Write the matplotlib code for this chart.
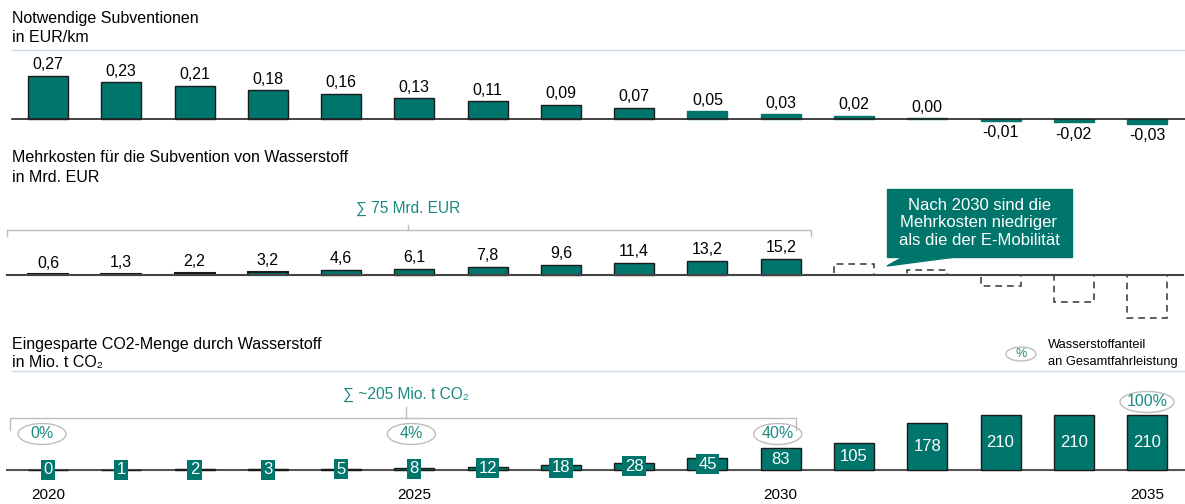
import matplotlib
matplotlib.use("Agg")
import matplotlib.pyplot as plt
from matplotlib.patches import Ellipse, Polygon, FancyBboxPatch
from matplotlib.lines import Line2D

plt.rcParams['font.family'] = ['Liberation Sans', 'DejaVu Sans']

# data
years = list(range(2020, 2036))
year_ticks = [2020, 2025, 2030, 2035]

subsidy = [0.27, 0.23, 0.21, 0.18, 0.16, 0.13, 0.11, 0.09, 0.07, 0.05, 0.03, 0.02, 0.00, -0.01, -0.02, -0.03]
subsidy_labels = ["0,27", "0,23", "0,21", "0,18", "0,16", "0,13", "0,11", "0,09", "0,07", "0,05", "0,03", "0,02", "0,00", "-0,01", "-0,02", "-0,03"]

extra_cost = [0.6, 1.3, 2.2, 3.2, 4.6, 6.1, 7.8, 9.6, 11.4, 13.2, 15.2]
extra_cost_labels = ["0,6", "1,3", "2,2", "3,2", "4,6", "6,1", "7,8", "9,6", "11,4", "13,2", "15,2"]
extra_cost_after = [10.5, 5.0, -10.5, -26.0, -41.0]  # dashed, after 2030

co2_saved = [0, 1, 2, 3, 5, 8, 12, 18, 28, 45, 83, 105, 178, 210, 210, 210]
share_years = [2020, 2025, 2030, 2035]
share_labels = ["0%", "4%", "40%", "100%"]

TEAL = "#00756b"
TEAL_TXT = "#1a8a80"
GRAY = "#bdbdbd"
LINE_BLUE = "#cfdde6"
FS = 11.5

W, H = 1185, 504
fig = plt.figure(figsize=(W / 100, H / 100), dpi=100)

def fx(x):
    return x / W

def fy(y):
    return 1 - y / H

def ax_at(top, bottom):
    return fig.add_axes([0, fy(bottom), 1, (bottom - top) / H])

x0, step = 48, 73.27
xl = (-x0 / step, (W - x0) / step)
idx = list(range(len(years)))
bw = 40 / step


def style(ax, ylim):
    ax.set_xlim(*xl)
    ax.set_ylim(*ylim)
    ax.axis("off")


# ---------- panel 1 ----------
fig.text(fx(12), fy(18), "Notwendige Subventionen", fontsize=FS, va="center")
fig.text(fx(12), fy(38), "in EUR/km", fontsize=FS, va="center")
fig.add_artist(Line2D([fx(12), 1], [fy(50), fy(50)], color=LINE_BLUE, lw=1))

ax1 = ax_at(55, 150)
ppu1 = 43 / 0.27
style(ax1, (-(150 - 119) / ppu1, (119 - 55) / ppu1))
for i, v in enumerate(subsidy):
    edge = "#1a1a1a" if abs(v) > 0.06 else TEAL
    ax1.bar(i, v if v != 0 else 0.006, width=bw, color=TEAL, edgecolor=edge, lw=1)
    if v >= 0:
        ax1.text(i, max(v, 0.006) + 0.022, subsidy_labels[i], ha="center", va="bottom", fontsize=FS)
    else:
        ax1.text(i, v - 0.028, subsidy_labels[i], ha="center", va="top", fontsize=FS)
ax1.plot([fx(12) * (xl[1] - xl[0]) + xl[0], xl[1]], [0, 0], color="#222222", lw=1.2)

# ---------- panel 2 ----------
fig.text(fx(12), fy(158), "Mehrkosten für die Subvention von Wasserstoff", fontsize=FS, va="center")
fig.text(fx(12), fy(177), "in Mrd. EUR", fontsize=FS, va="center")

ax2 = ax_at(190, 335)
ppu2 = 16 / 15.2
style(ax2, (-(335 - 275) / ppu2, (275 - 190) / ppu2))
for i, v in enumerate(extra_cost):
    ax2.bar(i, v, width=bw, color=TEAL, edgecolor="#1a1a1a", lw=1.5 if v < 4 else 1)
    ax2.text(i, v + 3.5, extra_cost_labels[i], ha="center", va="bottom", fontsize=FS)
for j, v in enumerate(extra_cost_after):
    ax2.bar(len(extra_cost) + j, v, width=bw, fill=False, edgecolor="#444444", lw=1.2, linestyle=(0, (4, 3)))
ax2.plot([xl[0] + 7 / step, xl[1] - 2 / step], [0, 0], color="#444444", lw=1.5)

# bracket
br = Line2D([fx(7), fx(7), fx(811), fx(811)], [fy(236), fy(230), fy(230), fy(236)], color=GRAY, lw=1)
fig.add_artist(br)
fig.add_artist(Line2D([fx(408), fx(408)], [fy(230), fy(225)], color=GRAY, lw=1))
fig.text(fx(408), fy(208), "∑ 75 Mrd. EUR", color=TEAL_TXT, fontsize=FS - 0.3, ha="center", va="center")

# callout
fig.add_artist(Polygon([[fx(887), fy(266)], [fx(905), fy(256)], [fx(963), fy(256)]],
                       closed=True, color=TEAL, transform=fig.transFigure))
fig.add_artist(FancyBboxPatch((fx(887), fy(257)), (1072 - 887) / W, (257 - 189) / H,
                              boxstyle="square,pad=0", color=TEAL, transform=fig.transFigure))
fig.text(fx(979), fy(223), "Nach 2030 sind die\nMehrkosten niedriger\nals die der E-Mobilität",
         color="white", fontsize=12, ha="center", va="center", linespacing=1.2)

# ---------- panel 3 ----------
fig.text(fx(12), fy(345), "Eingesparte CO2-Menge durch Wasserstoff", fontsize=FS, va="center")
fig.text(fx(12), fy(363), "in Mio. t CO₂", fontsize=FS, va="center")
fig.add_artist(Line2D([fx(12), 1], [fy(371), fy(371)], color=LINE_BLUE, lw=1))

# legend
fig.add_artist(Ellipse((fx(1021), fy(354)), 30 / W, 14 / H, facecolor="white", edgecolor=GRAY, lw=1,
                       transform=fig.transFigure))
fig.text(fx(1021), fy(354), "%", color=TEAL_TXT, fontsize=9, ha="center", va="center")
fig.text(fx(1048), fy(345), "Wasserstoffanteil", fontsize=9.3, va="center")
fig.text(fx(1048), fy(362), "an Gesamtfahrleistung", fontsize=9.3, va="center")

ax3 = ax_at(380, 482)
ppu3 = 55 / 210
style(ax3, (-(482 - 470) / ppu3, (470 - 380) / ppu3))
for i, v in enumerate(co2_saved):
    ax3.bar(i, max(v, 1.5), width=bw, color=TEAL, edgecolor="#1a1a1a", lw=1)
    ax3.text(i, v / 2, str(v), color="white", ha="center", va="center", fontsize=12,
             bbox=dict(boxstyle="square,pad=0.15", fc=TEAL, ec="none"))
ax3.plot([xl[0] + 7 / step, xl[1]], [0, 0], color="#555555", lw=1.5, zorder=0)

# bracket
fig.add_artist(Line2D([fx(10), fx(10), fx(796), fx(796)], [fy(430), fy(418), fy(418), fy(430)], color=GRAY, lw=1))
fig.add_artist(Line2D([fx(406), fx(406)], [fy(418), fy(407)], color=GRAY, lw=1))
fig.text(fx(406), fy(394), "∑ ~205 Mio. t CO₂", color=TEAL_TXT, fontsize=FS - 0.3, ha="center", va="center")

# share ovals
oval_y = {2020: 434, 2025: 434, 2030: 434, 2035: 402}
oval_dx = {2020: -6, 2025: -3, 2030: -3, 2035: 0}
for yr, lab in zip(share_years, share_labels):
    i = years.index(yr)
    ow = 48 if len(lab) < 4 else 54
    ax_x = (i - xl[0]) / (xl[1] - xl[0]) + oval_dx[yr] / W
    fig.add_artist(Ellipse((ax_x, fy(oval_y[yr])), ow / W, 21 / H, facecolor="white", edgecolor=GRAY, lw=1,
                           transform=fig.transFigure))
    fig.text(ax_x, fy(oval_y[yr]), lab, color=TEAL_TXT, fontsize=FS, ha="center", va="center")

# year labels
for yr in year_ticks:
    i = years.index(yr)
    fig.text((i - xl[0]) / (xl[1] - xl[0]), fy(495), str(yr), fontsize=11, ha="center", va="center")

fig.savefig("out.png", dpi=100)
